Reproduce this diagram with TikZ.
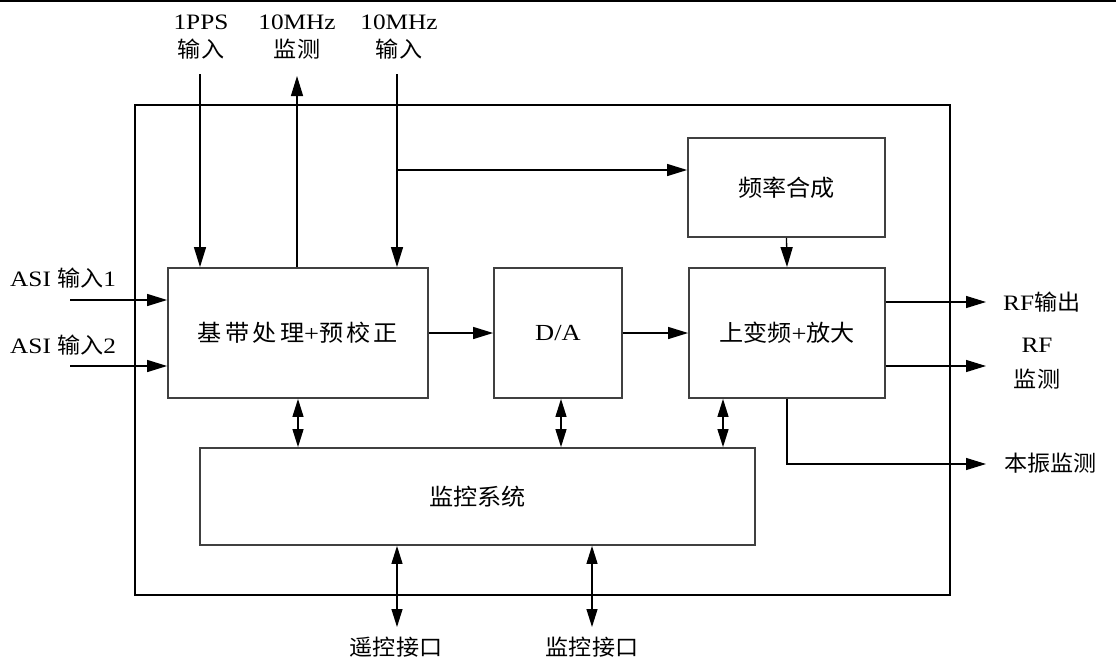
\documentclass[tikz,border=0pt]{standalone}
\usepackage{fontspec}
\setmainfont[FakeStretch=1.15]{Liberation Serif}
\newfontfamily\cjk{Noto Sans CJK SC}[FakeStretch=1.05]
\newfontfamily\cjkw{Noto Sans CJK SC}[FakeStretch=1.05,LetterSpace=14]
\usetikzlibrary{arrows.meta}
\begin{document}
\begin{tikzpicture}[x=1pt,y=-1pt,
  blk/.style={draw=black!75,line width=1.8pt,minimum width=#1,inner sep=0pt,font=\fontsize{23}{26}\selectfont},
  lbl/.style={inner sep=1pt,align=center,font=\fontsize{22}{22}\selectfont},
  arr/.style={line width=1.3pt,-{Triangle[length=20pt,width=12pt]}},
  darr/.style={line width=1.3pt,{Triangle[length=18pt,width=11pt]}-{Triangle[length=18pt,width=11pt]}}]
\useasboundingbox (0,0) rectangle (1116,664);
\draw[line width=1.5pt] (0,1) -- (1116,1);
% outer frame
\node[draw,line width=1.4pt,minimum width=815pt,minimum height=490pt,inner sep=0pt] (frame) at (542.5,350) {};
% blocks
\node[blk=260pt,minimum height=130pt] (bb) at (298,333) {{\cjkw 基带处理}+{\cjkw 预校正}};
\node[blk=128pt,minimum height=130pt] (da) at (558,333) {D/A};
\node[blk=196pt,minimum height=130pt] (up) at (787,333) {{\cjk 上变频}+{\cjk 放大}};
\node[blk=197pt,minimum height=99pt] (syn) at (786.5,187.5) {\cjk 频率合成};
\node[blk=555pt,minimum height=97pt] (mon) at (477.5,496.5) {\cjk 监控系统};
% top labels
\node[lbl,font=\fontsize{22}{28}\selectfont] (ppsL) at (201,37) {1PPS\\{\cjk 输入}};
\node[lbl,font=\fontsize{22}{28}\selectfont] (mhzmL) at (297,37) {10MHz\\{\cjk 监测}};
\node[lbl,font=\fontsize{22}{28}\selectfont] (mhziL) at (399,37) {10MHz\\{\cjk 输入}};
\coordinate (ppsT) at (200,74);
\coordinate (mhzmT) at (297,76);
\coordinate (mhziT) at (397,74);
\draw[arr] (ppsT) -- (ppsT |- bb.north);
\draw[arr] (mhzmT |- bb.north) -- (mhzmT);
\draw[arr] (mhziT) -- (mhziT |- bb.north);
\coordinate (br) at (397,170);
\draw[arr] (br) -- (br -| syn.west);
\draw[arr] (syn.south) -- (up.north);
% left inputs
\node[lbl,anchor=west] (asi1) at (9,278) {ASI {\cjk 输入}1};
\node[lbl,anchor=west] (asi2) at (9,345) {ASI {\cjk 输入}2};
\coordinate (a1) at (70,300);
\coordinate (a2) at (70,366);
\draw[arr] (a1) -- (a1 -| bb.west);
\draw[arr] (a2) -- (a2 -| bb.west);
% chain
\draw[arr] (bb.east) -- (da.west);
\draw[arr] (da.east) -- (up.west);
% right outputs
\node[lbl,anchor=west] (rfo) at (1002,302) {RF{\cjk 输出}};
\node[lbl,font=\fontsize{22}{35}\selectfont] (rfm) at (1037,364) {RF\\{\cjk 监测}};
\node[lbl,anchor=west] (lom) at (1003,463) {\cjk 本振监测};
\coordinate (o1) at (986,302);
\coordinate (o2) at (986,366);
\coordinate (o3) at (986,464);
\draw[arr] (o1 -| up.east) -- (o1);
\draw[arr] (o2 -| up.east) -- (o2);
\draw[arr] (up.south) |- (o3);
% to monitor
\draw[darr] (bb.south) -- (bb.south |- mon.north);
\draw[darr] ([xshift=3pt]da.south) -- ([xshift=3pt]da.south |- mon.north);
\draw[darr] ([xshift=-64pt]up.south) -- ([xshift=-64pt]up.south |- mon.north);
% bottom interfaces
\node[lbl] (yk) at (396,647) {\cjk 遥控接口};
\node[lbl] (jk) at (592,647) {\cjk 监控接口};
\coordinate (ykT) at (397,627);
\coordinate (jkT) at (592,627);
\draw[darr] (ykT |- mon.south) -- (ykT);
\draw[darr] (jkT |- mon.south) -- (jkT);
\end{tikzpicture}
\end{document}
